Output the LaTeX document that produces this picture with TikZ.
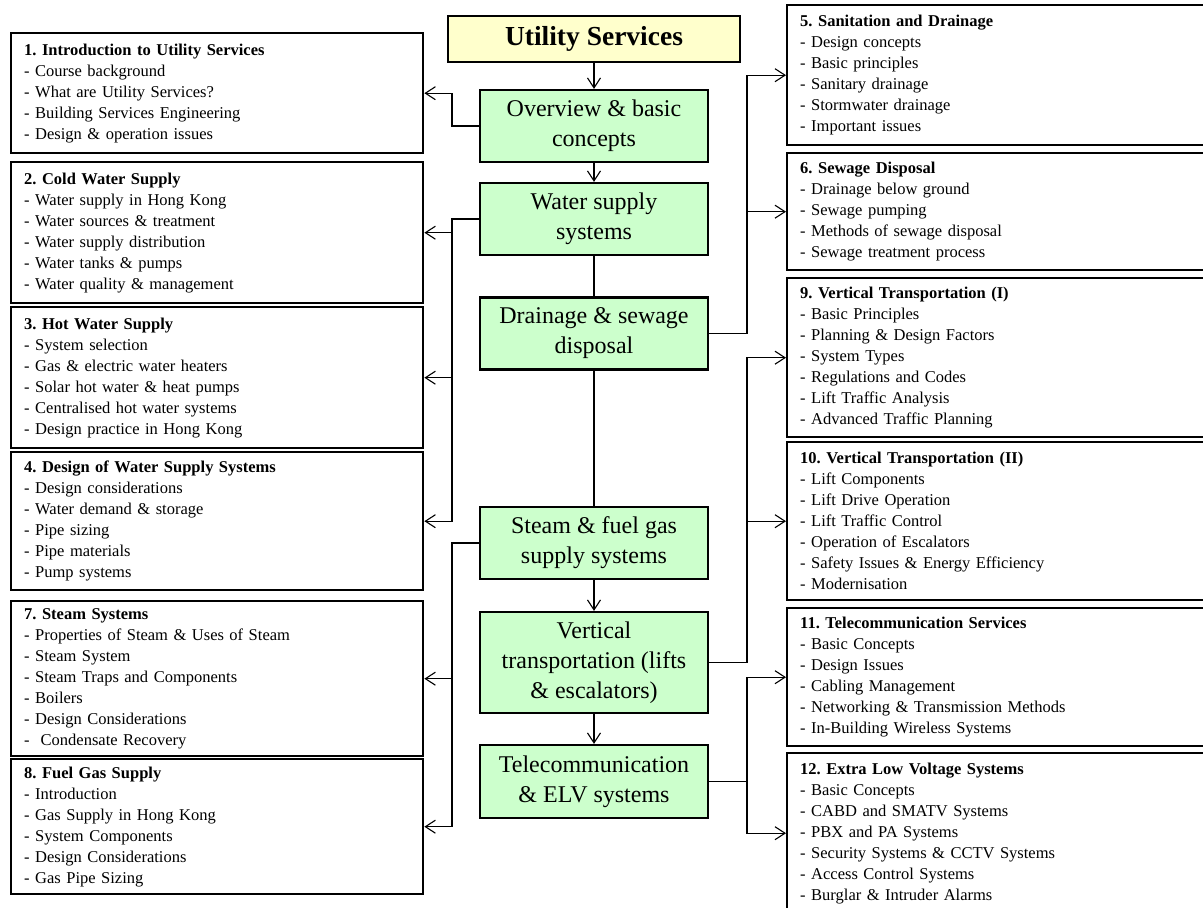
\documentclass[tikz,border=0pt]{standalone}
\usepackage{fontspec}
\setmainfont{Liberation Serif}
\usetikzlibrary{arrows.meta,calc}
\definecolor{boxgreen}{RGB}{204,255,204}
\definecolor{boxyellow}{RGB}{255,255,204}
\frenchspacing
\begin{document}
\begin{tikzpicture}[x=1pt,y=-1pt,
  topic/.style={draw=black,line width=2.4pt,anchor=north west,align=left,
    inner xsep=13pt,inner ysep=0pt,font=\fontsize{16.5}{21}\selectfont},
  lefttopic/.style={topic,text width=386pt},
  righttopic/.style={topic,text width=414pt},
  stage/.style={draw=black,line width=2.2pt,fill=boxgreen,minimum width=228pt,
    minimum height=72pt,align=center,inner sep=0pt,font=\fontsize{24}{30}\selectfont},
  headbox/.style={draw=black,line width=2.4pt,fill=boxyellow,minimum width=292pt,
    minimum height=46pt,inner sep=0pt,font=\fontsize{27.5}{30}\selectfont\bfseries},
  link/.style={line width=1.1pt,draw=black},
  arr/.style={link,-{Straight Barb[length=10pt,width=13pt]}}
]
\useasboundingbox (0,0) rectangle (1203,908);

% ---- centre column ----
\node[headbox] (us) at (594,39) {Utility Services};
\node[stage] (ov) at (594,126) {Overview \& basic\\concepts};
\node[stage] (ws) at (594,219) {Water supply\\systems};
\node[stage] (dr) at (594,333.5) {Drainage \& sewage\\disposal};
\node[stage] (st) at (594,543) {Steam \& fuel gas\\supply systems};
\node[stage,minimum height=101pt] (vt) at (594,662.5) {Vertical\\transportation (lifts\\\& escalators)};
\node[stage,minimum height=73pt] (tc) at (594,781.5) {Telecommunication\\\& ELV systems};

% ---- left topics ----
\node[lefttopic,minimum height=120pt] (b1) at (10,32) {\textbf{1. Introduction to Utility Services}\\- Course background\\- What are Utility Services?\\- Building Services Engineering\\- Design \& operation issues};
\node[lefttopic,minimum height=141pt] (b2) at (10,161) {\textbf{2. Cold Water Supply}\\- Water supply in Hong Kong\\- Water sources \& treatment\\- Water supply distribution\\- Water tanks \& pumps\\- Water quality \& management};
\node[lefttopic,minimum height=141pt] (b3) at (10,306) {\textbf{3. Hot Water Supply}\\- System selection\\- Gas \& electric water heaters\\- Solar hot water \& heat pumps\\- Centralised hot water systems\\- Design practice in Hong Kong};
\node[lefttopic,minimum height=138pt] (b4) at (10,451) {\textbf{4. Design of Water Supply Systems}\\- Design considerations\\- Water demand \& storage\\- Pipe sizing\\- Pipe materials\\- Pump systems};
\node[lefttopic,minimum height=155pt] (b7) at (10,600) {\textbf{7. Steam Systems}\\- Properties of Steam \& Uses of Steam\\- Steam System\\- Steam Traps and Components\\- Boilers\\- Design Considerations\\-\ \ Condensate Recovery};
\node[lefttopic,minimum height=135pt] (b8) at (10,758) {\textbf{8. Fuel Gas Supply}\\- Introduction\\- Gas Supply in Hong Kong\\- System Components\\- Design Considerations\\- Gas Pipe Sizing};

% ---- right topics ----
\node[righttopic,minimum height=140pt] (b5) at (786,4) {\textbf{5. Sanitation and Drainage}\\- Design concepts\\- Basic principles\\- Sanitary drainage\\- Stormwater drainage\\- Important issues};
\node[righttopic,minimum height=117pt] (b6) at (786,152) {\textbf{6. Sewage Disposal}\\- Drainage below ground\\- Sewage pumping\\- Methods of sewage disposal\\- Sewage treatment process};
\node[righttopic,minimum height=159pt] (b9) at (786,277) {\textbf{9. Vertical Transportation (I)}\\- Basic Principles\\- Planning \& Design Factors\\- System Types\\- Regulations and Codes\\- Lift Traffic Analysis\\- Advanced Traffic Planning};
\node[righttopic,minimum height=158pt] (b10) at (786,441) {\textbf{10. Vertical Transportation (II)}\\- Lift Components\\- Lift Drive Operation\\- Lift Traffic Control\\- Operation of Escalators\\- Safety Issues \& Energy Efficiency\\- Modernisation};
\node[righttopic,minimum height=138pt] (b11) at (786,607) {\textbf{11. Telecommunication Services}\\- Basic Concepts\\- Design Issues\\- Cabling Management\\- Networking \& Transmission Methods\\- In-Building Wireless Systems};
\node[righttopic,minimum height=160pt] (b12) at (786,752) {\textbf{12. Extra Low Voltage Systems}\\- Basic Concepts\\- CABD and SMATV Systems\\- PBX and PA Systems\\- Security Systems \& CCTV Systems\\- Access Control Systems\\- Burglar \& Intruder Alarms};

% trunks
\coordinate (lt) at (452,0);
\coordinate (rt) at (747,0);

% ---- centre connectors ----
\draw[arr] (us) -- (ov);
\draw[arr] (ov) -- (ws);
\draw[link] (ws) -- (dr);
\draw[link] (dr) -- (st);
\draw[arr] (st) -- (vt);
\draw[arr] (vt) -- (tc);

% ---- left connectors ----
\draw[arr] (ov.west) -- (ov.west -| lt) |- (b1.east);
\draw[arr] (ws.west) -- (ws.west -| lt) |- (b2.east);
\draw[arr] (ws.west -| lt) |- (b3.east);
\draw[arr] (ws.west -| lt) |- (b4.east);
\draw[arr] (st.west) -- (st.west -| lt) |- (b7.east);
\draw[arr] (st.west -| lt) |- (b8.east);

% ---- right connectors ----
\draw[arr] (dr.east) -- (dr.east -| rt) |- (b5.west);
\draw[arr] (dr.east -| rt) |- (b6.west);
\draw[arr] (vt.east) -- (vt.east -| rt) |- (b9.west);
\draw[arr] (vt.east -| rt) |- (b10.west);
\draw[arr] (tc.east) -- (tc.east -| rt) |- (b11.west);
\draw[arr] (tc.east -| rt) |- (b12.west);
\end{tikzpicture}
\end{document}
